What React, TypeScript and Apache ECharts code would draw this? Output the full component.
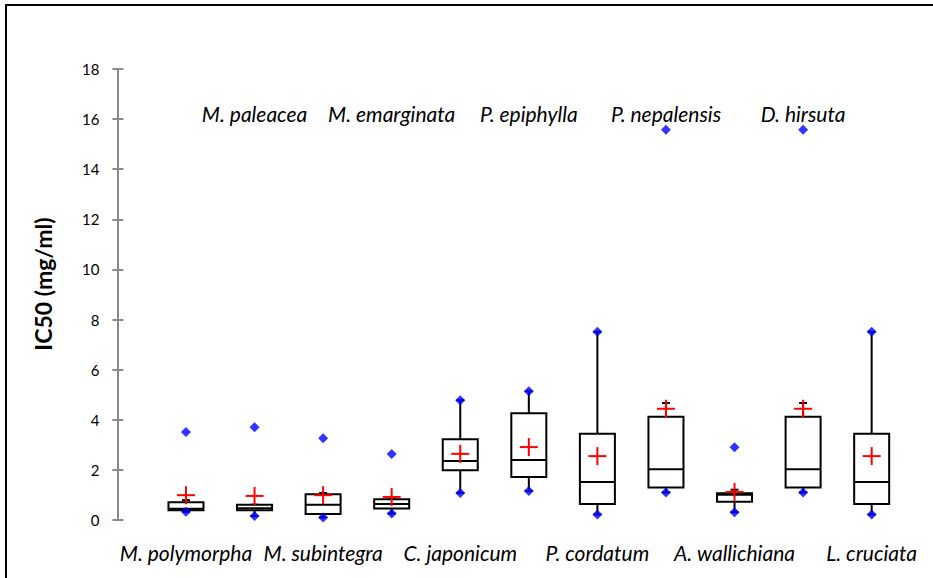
import React, { useEffect, useRef } from "react";
import * as echarts from "echarts";

// Species, in plotting order (odd positions labelled below, even above)
const species = [
  "M. polymorpha",
  "M. paleacea",
  "M. subintegra",
  "M. emarginata",
  "C. japonicum",
  "P. epiphylla",
  "P. cordatum",
  "P. nepalensis",
  "A. wallichiana",
  "D. hirsuta",
  "L. cruciata",
];

// IC50 summary statistics (mg/ml)
const minValues = [0.33, 0.16, 0.1, 0.26, 1.08, 1.16, 0.22, 1.1, 0.31, 1.1, 0.22];
const maxValues = [3.51, 3.7, 3.26, 2.63, 4.78, 5.14, 7.51, 15.58, 2.9, 15.58, 7.51];
const lowerWhisker = [0.33, 0.16, 0.1, 0.26, 1.08, 1.16, 0.22, 1.1, 0.31, 1.1, 0.22];
const q1Values = [0.39, 0.39, 0.24, 0.46, 1.99, 1.72, 0.64, 1.3, 0.73, 1.3, 0.64];
const medianValues = [0.45, 0.47, 0.61, 0.64, 2.35, 2.39, 1.52, 2.03, 1.01, 2.03, 1.52];
const q3Values = [0.71, 0.61, 1.03, 0.83, 3.22, 4.26, 3.44, 4.12, 1.07, 4.12, 3.44];
const upperWhisker = [0.79, 0.61, 1.08, 0.83, 4.78, 5.14, 7.51, 4.67, 1.21, 4.67, 7.51];
const meanValues = [0.99, 0.96, 0.99, 0.92, 2.64, 2.91, 2.55, 4.44, 1.12, 4.44, 2.55];

// Y axis
const yMin = 0;
const yMax = 18;
const yStep = 2;
const yTitle = "IC50 (mg/ml)";

// Value at which the upper row of species names sits
const TOP_ROW_VALUE = 16.24;

const BOX_WIDTH = 35;
const CAP_WIDTH = 8;
const PLUS_SIZE = 18;

export default function App() {
  const ref = useRef<HTMLDivElement>(null);

  useEffect(() => {
    if (!ref.current) return;
    const chart = echarts.init(ref.current, null, { renderer: "svg" });

    const boxRows = species.map((_, i) => [
      i + 1,
      lowerWhisker[i],
      q1Values[i],
      medianValues[i],
      q3Values[i],
      upperWhisker[i],
    ]);
    const meanRows = species.map((_, i) => [i + 1, meanValues[i]]);
    const extremeRows = species
      .map((_, i) => [i + 1, minValues[i]])
      .concat(species.map((_, i) => [i + 1, maxValues[i]]));
    const labelRows = species.map((_, i) => [i + 1, i]);

    const axisGray = "#8a8a8a";

    const baseY = {
      type: "value" as const,
      min: yMin,
      max: yMax,
      interval: yStep,
      position: "left" as const,
      splitLine: { show: false },
      axisLine: { show: true, lineStyle: { color: axisGray, width: 2 } },
    };

    chart.setOption({
      animation: false,
      backgroundColor: "#ffffff",
      grid: {
        left: 117.4,
        top: 69,
        width: 805.7,
        height: 451,
        outerBoundsMode: "none",
      },
      xAxis: {
        type: "value",
        min: 0,
        max: 11.75,
        show: false,
      },
      yAxis: [
        {
          ...baseY,
          axisTick: { show: true, inside: false, length: 5, lineStyle: { color: axisGray, width: 2 } },
          axisLabel: {
            show: true,
            margin: 18,
            color: "#000",
            fontFamily: "Lato",
            fontSize: 15,
          },
        },
        {
          ...baseY,
          axisTick: { show: true, inside: true, length: 6, lineStyle: { color: axisGray, width: 2 } },
          axisLabel: { show: false },
        },
      ],
      graphic: [
        {
          type: "rect",
          shape: { x: 6, y: 5, width: 1000, height: 1000 },
          style: { fill: "none", stroke: "#000", lineWidth: 2 },
          silent: true,
        },
        {
          type: "text",
          x: 43,
          y: 284,
          rotation: Math.PI / 2,
          style: {
            text: yTitle,
            font: "bold 23px Lato",
            fill: "#000",
            textAlign: "center",
            textVerticalAlign: "middle",
          },
        },
      ],
      series: [
        {
          type: "custom",
          name: "box",
          data: boxRows,
          encode: { x: 0, y: [1, 2, 3, 4, 5] },
          renderItem: (_params: any, api: any) => {
            const x = api.value(0);
            const pLo = api.coord([x, api.value(1)]);
            const pQ1 = api.coord([x, api.value(2)]);
            const pMed = api.coord([x, api.value(3)]);
            const pQ3 = api.coord([x, api.value(4)]);
            const pHi = api.coord([x, api.value(5)]);
            const cx = pQ1[0];
            const half = BOX_WIDTH / 2;
            const stroke = { stroke: "#000", lineWidth: 2 };
            return {
              type: "group",
              children: [
                { type: "line", shape: { x1: cx, y1: pQ3[1], x2: cx, y2: pHi[1] }, style: stroke },
                { type: "line", shape: { x1: cx - CAP_WIDTH / 2, y1: pHi[1], x2: cx + CAP_WIDTH / 2, y2: pHi[1] }, style: stroke },
                { type: "line", shape: { x1: cx, y1: pQ1[1], x2: cx, y2: pLo[1] }, style: stroke },
                { type: "line", shape: { x1: cx - CAP_WIDTH / 2, y1: pLo[1], x2: cx + CAP_WIDTH / 2, y2: pLo[1] }, style: stroke },
                {
                  type: "rect",
                  shape: { x: cx - half, y: pQ3[1], width: BOX_WIDTH, height: pQ1[1] - pQ3[1] },
                  style: { fill: "#fff", ...stroke },
                },
                { type: "line", shape: { x1: cx - half, y1: pMed[1], x2: cx + half, y2: pMed[1] }, style: stroke },
              ],
            };
          },
          z: 2,
        },
        {
          type: "custom",
          name: "mean",
          data: meanRows,
          encode: { x: 0, y: 1 },
          renderItem: (_params: any, api: any) => {
            const p = api.coord([api.value(0), api.value(1)]);
            const h = PLUS_SIZE / 2;
            const stroke = { stroke: "#ff0000", lineWidth: 2 };
            return {
              type: "group",
              children: [
                { type: "line", shape: { x1: p[0] - h, y1: p[1], x2: p[0] + h, y2: p[1] }, style: stroke },
                { type: "line", shape: { x1: p[0], y1: p[1] - h, x2: p[0], y2: p[1] + h }, style: stroke },
              ],
            };
          },
          z: 3,
        },
        {
          type: "scatter",
          name: "extremes",
          data: extremeRows,
          symbol: "diamond",
          symbolSize: 10,
          itemStyle: { color: "#0000ff" },
          z: 4,
        },
        {
          type: "custom",
          name: "labels",
          data: labelRows,
          encode: { x: 0, y: 1 },
          clip: false,
          renderItem: (_params: any, api: any) => {
            const x = api.value(0);
            const idx = api.value(1);
            const below = idx % 2 === 0;
            const p = api.coord([x, below ? yMin : TOP_ROW_VALUE]);
            return {
              type: "text",
              x: p[0],
              y: below ? p[1] + 32 : p[1],
              style: {
                text: species[idx],
                font: "italic 21px Lato",
                fill: "#000",
                align: "center",
                verticalAlign: "middle",
                textAlign: "center",
                textVerticalAlign: "middle",
              },
            };
          },
          z: 5,
        },
      ],
    });

    return () => chart.dispose();
  }, []);

  return (
    <div
      ref={ref}
      style={{ position: "fixed", left: 0, top: 0, width: 933, height: 578, background: "#fff" }}
    />
  );
}
